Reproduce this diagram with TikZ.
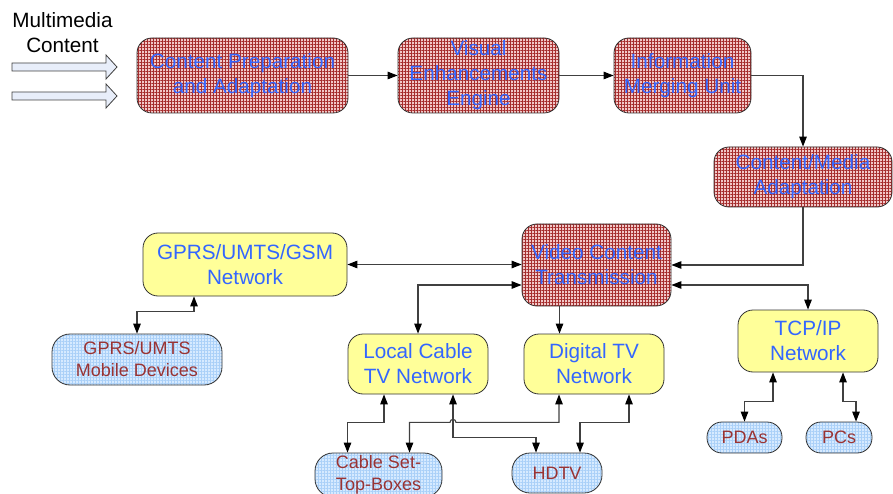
\documentclass[tikz,border=0pt]{standalone}
\usepackage{fontspec}
\setmainfont{Liberation Sans}
\usetikzlibrary{
  arrows.meta,
  positioning,
  calc,
  patterns.meta,
}
\definecolor{procbg}{RGB}{242,200,200}
\definecolor{procgrid}{RGB}{165,45,45}
\definecolor{netfill}{RGB}{255,255,153}
\definecolor{devbg}{RGB}{214,234,255}
\definecolor{devgrid}{RGB}{170,208,248}
\definecolor{bluetext}{RGB}{51,102,255}
\definecolor{redtext}{RGB}{153,51,51}
\definecolor{linecol}{RGB}{64,64,64}
\definecolor{inputfill}{RGB}{232,238,250}
\tikzset{
  bigfont/.style={font=\fontsize{20.7}{25}\selectfont},
  smallfont/.style={font=\fontsize{18}{22}\selectfont},
  basebox/.style={
    rectangle, draw=black!80, line width=0.8pt,
    inner sep=0pt, align=center
  },
  procbox/.style={
    basebox, bigfont, text=bluetext, rounded corners=15pt,
    preaction={fill=procbg},
    pattern={Hatch[angle=0,distance=3pt,line width=0.7pt]}, pattern color=procgrid
  },
  netbox/.style={
    basebox, bigfont, text=bluetext, rounded corners=15pt, fill=netfill
  },
  devbox/.style={
    basebox, smallfont, text=redtext, rounded corners=18pt,
    preaction={fill=devbg},
    pattern={Hatch[angle=0,distance=3pt,line width=0.6pt]}, pattern color=devgrid
  },
  inarrow/.style={draw=black!75, line width=0.8pt, fill=inputfill},
  link/.style={->, >={Triangle[length=10pt,width=7.5pt,color=black]}, line width=1.1pt, linecol},
  duallink/.style={link, <->},
}
\begin{document}
\begin{tikzpicture}[x=1pt, y=-1pt]
  \useasboundingbox (0,0) rectangle (893,494);

  % ── Input ──
  \node[bigfont, align=center] (mmtitle) at (62.5,32.5) {Multimedia\\Content};
  \foreach \y in {67,96}
    \draw[inarrow] (12,\y-4) -- (106,\y-4) -- (106,\y-12) -- (117,\y)
      -- (106,\y+12) -- (106,\y+4) -- (12,\y+4) -- cycle;

  % ── Processing chain ──
  \node[procbox, minimum width=211pt, minimum height=75pt] (prep)  at (242.5,75.5) {Content Preparation\\and Adaptation};
  \node[procbox, minimum width=161pt, minimum height=75pt] (enh)   at (478.5,75.5) {Visual\\Enhancements\\Engine};
  \node[procbox, minimum width=137pt, minimum height=75pt] (merge) at (682.5,75.5) {Information\\Merging Unit};
  \node[procbox, minimum width=178pt, minimum height=60pt] (adapt) at (803,177)    {Content/Media\\Adaptation};
  \node[procbox, minimum width=149pt, minimum height=82pt] (trans) at (596.5,265)  {Video Content\\Transmission};

  % ── Networks ──
  \node[netbox, minimum width=204pt, minimum height=63pt] (gsm)   at (245,264.5) {GPRS/UMTS/GSM\\Network};
  \node[netbox, minimum width=140pt, minimum height=60pt] (cable) at (418,364)   {Local Cable\\TV Network};
  \node[netbox, minimum width=140pt, minimum height=60pt] (dtv)   at (594,364)   {Digital TV\\Network};
  \node[netbox, minimum width=140pt, minimum height=62pt] (tcpip) at (808,341)   {TCP/IP\\Network};

  % ── Devices ──
  \node[devbox, minimum width=170pt, minimum height=51pt] (mobile) at (137,359.5) {GPRS/UMTS\\Mobile Devices};
  \node[devbox, rounded corners=15pt, minimum width=75pt, minimum height=31pt] (pda) at (744.5,437.5) {PDAs};
  \node[devbox, rounded corners=15pt, minimum width=66pt, minimum height=31pt] (pc)  at (839,437.5) {PCs};
  \node[devbox, minimum width=127pt, minimum height=44pt] (stb)    at (378.5,475) {Cable Set-\\Top-Boxes};
  \node[devbox, minimum width=90pt,  minimum height=40pt] (hdtv)   at (557,473) {HDTV};

  % ── Connectors ──
  \draw[link] (prep) -- (enh);
  \draw[link] (enh) -- (merge);
  \draw[link] (merge.east) -| (adapt.north);
  \draw[link] (adapt.south) |- (trans.east);
  \draw[duallink] (gsm.east) -- (gsm.east -| trans.west);
  \draw[duallink] ([yshift=-20pt]trans.west) -| (cable.north);
  \draw[duallink] ([yshift=-20pt]trans.east) -| (tcpip.north);
  \draw[link] ([xshift=-37pt]trans.south) -- ([xshift=-37pt]trans.south |- dtv.north);
  \draw[duallink] ([xshift=-51pt]gsm.south) -- ++(0,15) -| (mobile.north);
  \draw[duallink] ([xshift=-35pt]tcpip.south) -- ++(0,29) -| (pda.north);
  \draw[duallink] ([xshift=35pt]tcpip.south) -- ++(0,29) -| ([xshift=17pt]pc.north);
  \draw[duallink] ([xshift=-34pt]cable.south) -- ++(0,28) -| ([xshift=-31pt]stb.north);
  \draw[duallink] ([xshift=35pt]cable.south) -- ++(0,43) -| ([xshift=-21pt]hdtv.north);
  \draw[duallink] ([xshift=-35pt]dtv.south) -- ++(0,28) -- ++(-103,0)
    .. controls +(0,-4) and +(0,-4) .. ++(-6,0) -| ([xshift=31pt]stb.north);
  \draw[duallink] ([xshift=35pt]dtv.south) -- ++(0,28) -| ([xshift=23pt]hdtv.north);

\end{tikzpicture}
\end{document}
